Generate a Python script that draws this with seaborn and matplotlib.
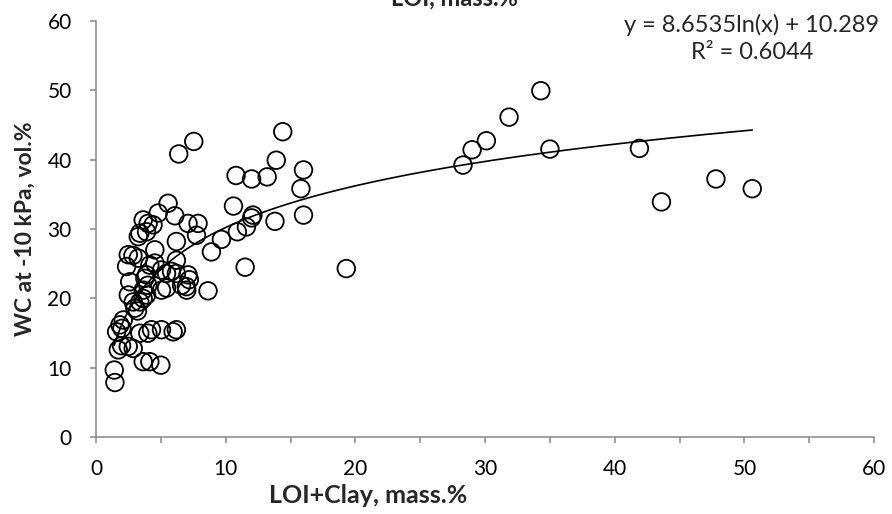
import numpy as np
import pandas as pd
import seaborn as sns
import matplotlib.pyplot as plt
from matplotlib.ticker import MultipleLocator

# LOI+Clay (mass.%) e WC a -10 kPa (vol.%)
loi_clay = [
    34.3, 31.85, 30.1, 29.0, 28.3, 35.0, 41.9, 47.8, 43.6, 50.6, 19.3,
    7.54, 6.38, 14.4, 13.9, 16.0, 15.8, 16.0, 13.8, 10.8, 12.0, 13.2, 10.6,
    12.1, 12.0, 11.6, 10.9, 9.67, 11.5,
    5.56, 4.8, 6.08, 3.64, 4.02, 4.4, 3.38, 3.9, 7.1, 7.87, 7.75, 6.2, 4.54,
    8.9, 2.85, 3.26,
    2.49, 3.26, 4.15, 4.54, 6.2, 2.36, 5.05, 5.44, 5.82, 6.2, 3.9, 7.1, 7.2,
    3.77, 2.6, 4.0, 3.64, 5.05, 5.44, 6.6, 6.97, 7.0, 8.64, 2.49, 3.9, 3.64,
    2.87, 3.38, 3.0, 3.2, 2.1, 1.85, 2.0, 1.59, 3.38, 4.0, 4.28, 5.05, 5.95,
    6.2, 1.72, 1.97, 2.49, 2.87, 3.64, 4.15, 5.0, 1.41, 1.46,
]
wc = [
    49.9, 46.1, 42.7, 41.4, 39.2, 41.5, 41.6, 37.2, 33.9, 35.8, 24.3,
    42.6, 40.8, 44.0, 39.9, 38.5, 35.8, 32.0, 31.1, 37.7, 37.2, 37.5, 33.3,
    32.0, 31.6, 30.3, 29.6, 28.5, 24.5,
    33.7, 32.3, 31.9, 31.3, 30.8, 30.6, 29.4, 29.6, 30.8, 30.8, 29.1, 28.2, 27.0,
    26.7, 26.2, 28.9,
    26.3, 25.8, 24.8, 25.1, 25.5, 24.6, 24.1, 23.6, 23.9, 23.6, 23.4, 23.4, 22.7,
    22.9, 22.4, 21.9, 21.2, 21.2, 21.5, 21.9, 21.7, 21.2, 21.1, 20.5, 20.5, 20.0,
    19.5, 19.5, 18.6, 18.2, 16.9, 16.2, 15.7, 15.2, 15.0, 15.0, 15.5, 15.5, 15.2,
    15.5, 12.6, 13.2, 13.1, 12.8, 10.9, 10.9, 10.4, 9.7, 7.9,
]

# Linha de tendência logarítmica (coeficientes do Excel)
coef_a = 8.6535
coef_b = 10.289
r2 = 0.6044

df = pd.DataFrame({"x": loi_clay, "y": wc})

sns.set_style("ticks")
plt.rcParams["font.family"] = ["Lato", "DejaVu Sans"]

fig = plt.figure(figsize=(8.92, 5.14), dpi=100)
ax = fig.add_axes([0.1076, 0.149, 0.8724, 0.811])

xs = np.linspace(df["x"].min(), df["x"].max(), 300)
trend = pd.DataFrame({"x": xs, "y": coef_a * np.log(xs) + coef_b})
sns.lineplot(data=trend, x="x", y="y", color="black", linewidth=1.2, ax=ax)

sns.scatterplot(data=df, x="x", y="y", s=160, facecolor="none",
                edgecolor="black", linewidth=1.3, ax=ax)

ax.set_xlim(0, 60)
ax.set_ylim(0, 60)
ax.xaxis.set_major_locator(MultipleLocator(10))
ax.xaxis.set_minor_locator(MultipleLocator(5))
ax.yaxis.set_major_locator(MultipleLocator(10))

sns.despine(ax=ax)
gray = "#868686"
for s in ["left", "bottom"]:
    ax.spines[s].set_color(gray)
    ax.spines[s].set_linewidth(1.1)
ax.tick_params(which="both", direction="out", length=4.5, width=1.1,
               color=gray, labelsize=15, labelcolor="black")
ax.tick_params(axis="x", which="both", pad=11)
ax.tick_params(axis="y", pad=13)

ax.set_xlabel("LOI+Clay, mass.%", fontsize=18, fontweight="bold")
ax.set_ylabel("WC at -10 kPa, vol.%", fontsize=16.5, fontweight="bold")
ax.xaxis.set_label_coords(0.35, -0.112)
ax.yaxis.set_label_coords(-0.078, 0.5)

ax.text(0.843, 0.957, f"y = {coef_a}ln(x) + {coef_b}\nR² = {r2}",
        transform=ax.transAxes, ha="center", va="center",
        multialignment="center", fontsize=17, linespacing=1.3)

fig.text(0.51, 1 - 5 / 514, "LOI, mass.%", ha="center", va="baseline",
         fontsize=17, fontweight="bold")

fig.savefig("out.png", dpi=100)
